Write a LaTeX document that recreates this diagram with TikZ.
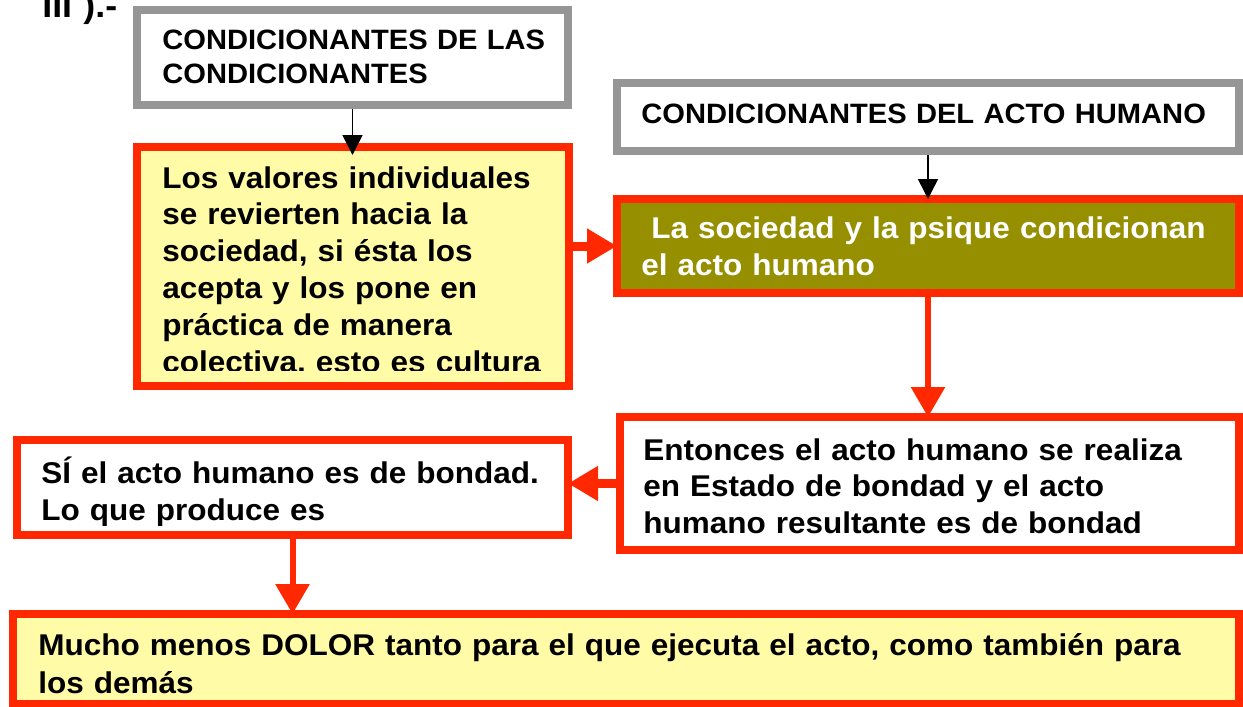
\documentclass[tikz,border=0pt]{standalone}
\usepackage{fontspec}
\usepackage{xcolor}
\usetikzlibrary{arrows.meta}
\newfontfamily\lowfont[FakeStretch=1.05]{Liberation Sans}
\newfontfamily\capfont[FakeStretch=1.04]{Liberation Sans}
\definecolor{boxred}{RGB}{255,40,0}
\definecolor{boxgray}{RGB}{150,150,150}
\definecolor{paleyellow}{RGB}{255,251,166}
\definecolor{actolive}{RGB}{150,143,0}

\begin{document}
\begin{tikzpicture}[x=0.5pt,y=-0.5pt,
  graybox/.style={draw=boxgray,line width=3.75pt,fill=white,anchor=north west,outer sep=0pt,inner sep=0pt},
  redbox/.style={draw=boxred,line width=4pt,anchor=north west,outer sep=0pt,inner sep=0pt},
  captext/.style={anchor=base west,inner sep=0pt,align=left,text width=320pt,font=\capfont\bfseries\fontsize{14}{17}\selectfont},
  lowtext/.style={anchor=base west,inner sep=0pt,align=left,text width=600pt,font=\lowfont\bfseries\fontsize{15}{#1}\selectfont},
  lowtext/.default=18.5,
  thinarrow/.style={-{Triangle[length=10pt,width=10pt]},line width=0.75pt},
  redarrow/.style={-{Triangle[length=15pt,width=16.5pt]},color=boxred,line width=3pt}]
  \useasboundingbox (0,0) rectangle (1243,707);
  \clip (0,0) rectangle (1243,707);
  \node[graybox,minimum width=215.5pt,minimum height=47.5pt] (conda) at (137,10) {};
  \node[graybox,minimum width=311pt,minimum height=34pt] (condb) at (617,83) {};
  \node[redbox,fill=paleyellow,minimum width=216pt,minimum height=119.5pt] (valores) at (137,147) {};
  \node[redbox,fill=actolive,minimum width=311pt,minimum height=47pt] (sociedad) at (617,199) {};
  \node[redbox,fill=white,minimum width=309.5pt,minimum height=66.5pt] (entonces) at (620,417) {};
  \node[redbox,fill=white,minimum width=275.5pt,minimum height=47.5pt] (bondad) at (17,440) {};
  \node[redbox,fill=paleyellow,minimum width=613pt,minimum height=45pt] (dolor) at (13,614) {};
  \draw[thinarrow] ([yshift=-2pt]conda.south) -- ([yshift=-4pt]conda.south |- valores.north);
  \draw[thinarrow] ([yshift=-2pt]condb.south) -- (condb.south |- sociedad.north);
  \draw[redarrow,line width=4.5pt] (valores.east |- sociedad.west) -- (sociedad.west);
  \draw[redarrow] (sociedad.south) -- (sociedad.south |- entonces.north);
  \draw[redarrow,line width=4.5pt] (entonces.west) -- (entonces.west -| bondad.east);
  \draw[redarrow] (bondad.south) -- (bondad.south |- dolor.north);
  \node[lowtext,font=\lowfont\bfseries\fontsize{17}{18}\selectfont] (seccion) at (42,17) {III ).-};
  \node[captext] (condatxt) at (162,49) {CONDICIONANTES DE LAS\\CONDICIONANTES};
  \node[captext] (condbtxt) at (641,123) {CONDICIONANTES DEL ACTO HUMANO};
  \begin{scope}
    \clip (141,151) rectangle (565,370);
    \node[lowtext=18.4] (valorestxt) at (162,188) {Los valores individuales\\se revierten hacia la\\sociedad, si ésta los\\acepta y los pone en\\práctica de manera\\colectiva, esto es cultura};
  \end{scope}
  \node[lowtext=18.5,text=white] (sociedadtxt) at (641,238) {\ La sociedad y la psique condicionan\\el acto humano};
  \node[lowtext=18.25] (entoncestxt) at (643,460) {Entonces el acto humano se realiza\\en Estado de bondad y el acto\\humano resultante es de bondad};
  \begin{scope}
    \clip (21,444) rectangle (564,525);
    \node[lowtext] (bondadtxt) at (41,483) {SÍ el acto humano es de bondad.\\Lo que produce es};
  \end{scope}
  \node[lowtext=19] (dolortxt) at (38,655) {Mucho menos DOLOR tanto para el que ejecuta el acto, como también para\\los demás};
\end{tikzpicture}
\end{document}
